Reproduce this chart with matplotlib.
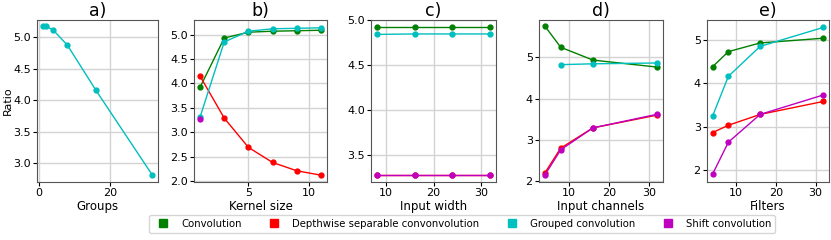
import matplotlib
matplotlib.use('Agg')
import matplotlib.pyplot as plt
from matplotlib.lines import Line2D

# a) groups
groups = [1, 2, 4, 8, 16, 32]
groups_grouped = [5.18, 5.17, 5.11, 4.87, 4.16, 2.81]

# b) kernel size
kernel = [1, 3, 5, 7, 9, 11]
kernel_conv = [3.92, 4.93, 5.05, 5.07, 5.08, 5.09]
kernel_dw = [4.15, 3.29, 2.69, 2.38, 2.21, 2.12]
kernel_grouped = [3.31, 4.85, 5.07, 5.12, 5.13, 5.14]
kernel_shift_x = [1]
kernel_shift = [3.28]

# c) input width
width = [8, 16, 24, 32]
width_conv = [4.92, 4.92, 4.92, 4.92]
width_dw = [3.28, 3.28, 3.28, 3.28]
width_grouped = [4.84, 4.845, 4.845, 4.845]
width_shift = [3.28, 3.28, 3.28, 3.28]

# d) input channels
channels = [4, 8, 16, 32]
channels_conv = [5.76, 5.24, 4.93, 4.76]
channels_dw = [2.19, 2.80, 3.29, 3.60]
channels_grouped_x = [8, 16, 32]
channels_grouped = [4.82, 4.84, 4.86]
channels_shift = [2.14, 2.76, 3.29, 3.62]

# e) filters
filters = [4, 8, 16, 32]
filters_conv = [4.38, 4.73, 4.93, 5.04]
filters_dw = [2.86, 3.03, 3.28, 3.58]
filters_grouped = [3.24, 4.16, 4.85, 5.29]
filters_shift = [1.90, 2.64, 3.28, 3.73]

labels = ['Convolution', 'Depthwise separable convonvolution',
          'Grouped convolution', 'Shift convolution']
colors = ['green', 'red', 'c', 'm']

fig = plt.figure(figsize=(8.31, 2.4), dpi=100)
W, H = 831, 240
boxes = [(37, 158), (194, 327), (371, 496), (539, 663), (707, 829)]
top, bottom = 20, 182
axes = []
for l, r in boxes:
    ax = fig.add_axes([l / W, 1 - bottom / H, (r - l) / W, (bottom - top) / H])
    axes.append(ax)

kw = dict(marker='o', markersize=3.5, linewidth=1)
title_kw = dict(fontsize=12.5, pad=3)
label_kw = dict(fontsize=8.5, labelpad=1)

ax = axes[0]
ax.plot(groups, groups_grouped, color='c', **kw)
ax.set_title('a)', **title_kw)
ax.set_xlabel('Groups', **label_kw)
ax.set_ylabel('Ratio', fontsize=8)
ax.yaxis.set_label_coords(-0.198, 0.5)
ax.set_ylim(2.7, 5.27)
ax.set_xlim(-0.6, 33.6)

ax = axes[1]
ax.plot(kernel, kernel_conv, color='green', **kw)
ax.plot(kernel, kernel_dw, color='red', **kw)
ax.plot(kernel, kernel_grouped, color='c', **kw)
ax.plot(kernel_shift_x, kernel_shift, color='m', **kw)
ax.set_title('b)', **title_kw)
ax.set_xlabel('Kernel size', **label_kw)
ax.set_ylim(1.98, 5.3)
ax.set_xlim(0.5, 11.5)

ax = axes[2]
ax.plot(width, width_conv, color='green', **kw)
ax.plot(width, width_dw, color='red', **kw)
ax.plot(width, width_grouped, color='c', **kw)
ax.plot(width, width_shift, color='m', **kw)
ax.set_title('c)', **title_kw)
ax.set_xlabel('Input width', **label_kw)
ax.set_ylim(3.2, 5.0)
ax.set_yticks([3.5, 4.0, 4.5, 5.0])
ax.set_xlim(6.8, 33.2)

ax = axes[3]
ax.plot(channels, channels_conv, color='green', **kw)
ax.plot(channels, channels_dw, color='red', **kw)
ax.plot(channels_grouped_x, channels_grouped, color='c', **kw)
ax.plot(channels, channels_shift, color='m', **kw)
ax.set_title('d)', **title_kw)
ax.set_xlabel('Input channels', **label_kw)
ax.set_ylim(1.98, 5.9)
ax.set_xlim(2.6, 33.4)

ax = axes[4]
ax.plot(filters, filters_conv, color='green', **kw)
ax.plot(filters, filters_dw, color='red', **kw)
ax.plot(filters, filters_grouped, color='c', **kw)
ax.plot(filters, filters_shift, color='m', **kw)
ax.set_title('e)', **title_kw)
ax.set_xlabel('Filters', **label_kw)
ax.set_ylim(1.72, 5.46)
ax.set_xlim(2.6, 33.4)

for ax in axes:
    ax.grid(True, color='#d3d3d3', linewidth=1)
    ax.set_axisbelow(True)
    ax.tick_params(labelsize=8, length=3, pad=1.5)
    for s in ax.spines.values():
        s.set_color('#555555')

handles = [Line2D([], [], color=c, marker='s', linestyle='', markersize=5.8)
           for c in colors]
fig.legend(handles, labels, loc='center', ncol=4, fontsize=7.3,
           bbox_to_anchor=(462 / W, 1 - 224 / H), frameon=True,
           handletextpad=0.8, columnspacing=2.2, borderpad=0.4)

fig.savefig('out.png', dpi=100)
